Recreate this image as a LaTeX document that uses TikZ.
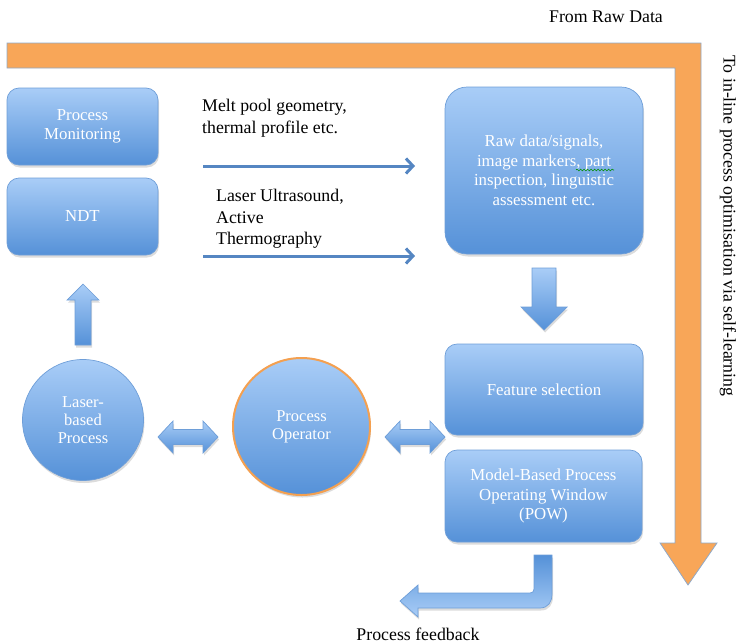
\documentclass[tikz,border=0pt]{standalone}
\usepackage{fontspec}
\setmainfont{Liberation Serif}
\usetikzlibrary{shadows,arrows.meta,decorations.pathmorphing}
\definecolor{bTop}{HTML}{A9CDF7}
\definecolor{bBot}{HTML}{5591D8}
\definecolor{bEdge}{HTML}{6E9ED8}
\definecolor{orangeF}{HTML}{F8A658}
\definecolor{orangeE}{HTML}{8FA9C9}
\definecolor{lineBlue}{HTML}{5586C2}
\definecolor{opEdge}{HTML}{F4A050}
\begin{document}
\begin{tikzpicture}[x=1pt,y=-1pt,
  softshadow/.style={drop shadow={opacity=0.28,shadow xshift=1pt,shadow yshift=-2.5pt}},
  bshade/.style={top color=bTop,bottom color=bBot,draw=bEdge,line width=0.7pt,softshadow},
  boxnode/.style={bshade,rounded corners=12pt,inner sep=2pt,align=center,text=white,
    font=\fontsize{16.8}{19.5}\selectfont},
  circnode/.style={bshade,circle,inner sep=0pt,align=center,text=white,
    font=\fontsize{16.5}{18}\selectfont},
  blockarrow/.style={bshade,line join=miter},
  thinarrow/.style={draw=lineBlue,line width=3pt,-{Straight Barb[length=7pt,width=15pt]}},
  plaintext/.style={inner sep=0pt,font=\fontsize{17.8}{21.5}\selectfont,text=black}
]
\useasboundingbox (0,0) rectangle (742,643);

% orange L-shaped arrow
\path[fill=orangeF,draw=orangeE,line width=0.8pt,line join=miter]
  (7,43) -- (701,43) -- (701,543) -- (717,543) -- (688,585) -- (660,543)
  -- (675,543) -- (675,68) -- (7,68) -- cycle;

% boxes
\node[boxnode,minimum width=151pt,minimum height=77pt] (pm) at (82.5,126.5) {Process\\Monitoring};
\node[boxnode,minimum width=151pt,minimum height=77pt] (ndt) at (82.5,216.5) {NDT};
\node[boxnode,rounded corners=22pt,minimum width=198pt,minimum height=167pt] (raw) at (544,170.5)
  {Raw data/signals,\\image markers, part\\inspection, linguistic\\assessment etc.};
\node[boxnode,minimum width=198pt,minimum height=91pt] (feat) at (544,389.5) {Feature selection};
\node[boxnode,minimum width=197pt,minimum height=92pt] (pow) at (543.5,496)
  {Model-Based Process\\Operating Window\\(POW)};

% circles
\node[circnode,minimum size=121pt] (laser) at (83,420) {Laser-\\based\\Process};
\node[circnode,draw=opEdge,line width=2pt,minimum size=137pt] (op) at (301.5,426.5) {Process\\Operator};

% spell-check squiggle
\draw[green!55!black,line width=0.6pt,decorate,decoration={snake,amplitude=0.9pt,segment length=3.5pt}]
  (576,170) -- (614,170);

% block arrows
\path[blockarrow] (75,345) -- (75,300) -- (67,300) -- (83,284) -- (99,300) -- (91,300) -- (91,345) -- cycle;
\path[blockarrow] (532,268) -- (556,268) -- (556,307) -- (567,307) -- (544,330) -- (521,307) -- (532,307) -- cycle;
\path[blockarrow] (158,437) -- (173,421) -- (173,429.5) -- (203,429.5) -- (203,421) -- (218,437)
  -- (203,453) -- (203,444.5) -- (173,444.5) -- (173,453) -- cycle;
\path[blockarrow] (385,437) -- (400,421) -- (400,429.5) -- (430,429.5) -- (430,421) -- (445,437)
  -- (430,453) -- (430,444.5) -- (400,444.5) -- (400,453) -- cycle;
\path[draw=bEdge,line width=0.7pt,top color=bBot,bottom color=bTop,softshadow]
  (534,555) -- (552,555) -- (552,594) .. controls (552,602) and (548,608) .. (540,608)
  -- (418,608) -- (418,617) -- (400,601) -- (418,585) -- (418,593) -- (530,593)
  .. controls (532.5,593) and (534,591.5) .. (534,589) -- cycle;

% thin arrows
\coordinate (a1s) at (203,166);
\coordinate (a1e) at (415,166);
\coordinate (a2s) at (203,256);
\coordinate (a2e) at (415,256);
\draw[thinarrow] (a1s) -- (a1e);
\draw[thinarrow] (a2s) -- (a2e);

% texts
\node[plaintext] (from) at (606,17) {From Raw Data};
\node[plaintext,align=left,anchor=west] (melt) at (202,118) {Melt pool geometry,\\thermal profile etc.};
\node[plaintext,align=left,anchor=west] (lus) at (216,219) {Laser Ultrasound,\\Active\\Thermography};
\node[plaintext] (fb) at (418,634) {Process feedback};
\node[plaintext,rotate=-90,anchor=west] (inline) at (728,55) {To in-line process optimisation via self-learning};
\end{tikzpicture}
\end{document}
